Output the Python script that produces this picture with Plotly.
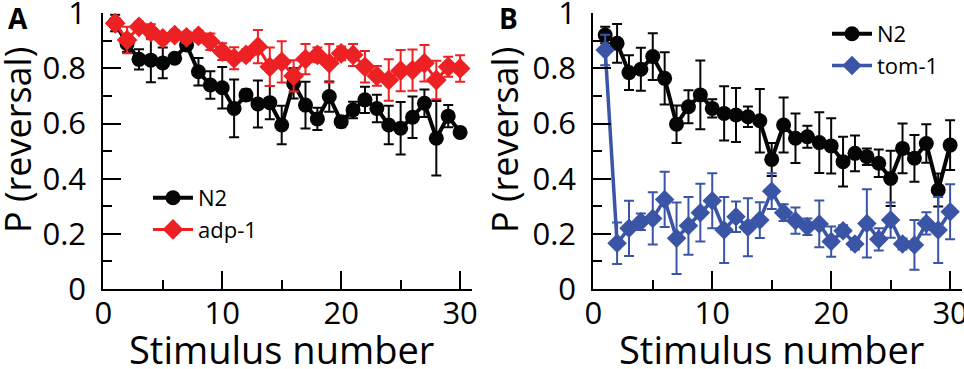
import plotly.graph_objects as go

stim = list(range(1, 31))

a_n2 = [0.965, 0.89, 0.833, 0.83, 0.82, 0.837, 0.885, 0.788, 0.74, 0.73,
        0.655, 0.704, 0.671, 0.676, 0.595, 0.746, 0.667, 0.617, 0.698, 0.607,
        0.649, 0.686, 0.655, 0.595, 0.583, 0.623, 0.674, 0.547, 0.627, 0.568]
a_n2_err = [0.03, 0.03, 0.037, 0.08, 0.056, 0.015, 0.015, 0.05, 0.05, 0.075,
            0.105, 0.02, 0.085, 0.06, 0.07, 0.055, 0.085, 0.04, 0.055, 0.02,
            0.03, 0.048, 0.05, 0.07, 0.095, 0.075, 0.05, 0.135, 0.04, 0.0]

a_adp = [0.964, 0.903, 0.951, 0.933, 0.909, 0.921, 0.913, 0.918, 0.897, 0.861,
         0.837, 0.849, 0.879, 0.806, 0.824, 0.773, 0.834, 0.849, 0.819, 0.855,
         0.849, 0.806, 0.773, 0.758, 0.792, 0.794, 0.819, 0.758, 0.806, 0.8]
a_adp_err = [0.015, 0.048, 0.018, 0.027, 0.018, 0.018, 0.02, 0.02, 0.03, 0.03,
             0.04, 0.02, 0.06, 0.07, 0.075, 0.057, 0.055, 0.027, 0.07, 0.025,
             0.04, 0.057, 0.036, 0.075, 0.075, 0.075, 0.066, 0.07, 0.036, 0.048]

b_n2 = [0.921, 0.891, 0.785, 0.797, 0.843, 0.764, 0.598, 0.661, 0.704, 0.655,
        0.637, 0.631, 0.625, 0.61, 0.47, 0.595, 0.547, 0.552, 0.531, 0.519,
        0.462, 0.492, 0.48, 0.456, 0.401, 0.51, 0.474, 0.528, 0.359, 0.522]
b_n2_err = [0.03, 0.07, 0.063, 0.078, 0.085, 0.095, 0.068, 0.06, 0.125, 0.033,
            0.098, 0.098, 0.037, 0.115, 0.06, 0.1, 0.09, 0.04, 0.11, 0.1,
            0.09, 0.065, 0.03, 0.05, 0.1, 0.09, 0.085, 0.07, 0.06, 0.09]

b_tom = [0.867, 0.166, 0.22, 0.244, 0.256, 0.325, 0.184, 0.229, 0.277, 0.32,
         0.214, 0.262, 0.224, 0.25, 0.355, 0.277, 0.248, 0.226, 0.236, 0.172,
         0.211, 0.163, 0.238, 0.18, 0.25, 0.163, 0.16, 0.238, 0.214, 0.28]
b_tom_err = [0.055, 0.075, 0.1, 0.03, 0.095, 0.1, 0.13, 0.105, 0.105, 0.1,
             0.12, 0.055, 0.105, 0.065, 0.065, 0.03, 0.048, 0.03, 0.085, 0.055,
             0.02, 0.02, 0.124, 0.04, 0.064, 0.02, 0.09, 0.04, 0.12, 0.1]

y_ticks = [0, 0.2, 0.4, 0.6, 0.8, 1]
y_ticklabels = ["0", "0.2", "0.4", "0.6", "0.8", "1"]
y_minor = [0.1, 0.3, 0.5, 0.7, 0.9]
x_ticks = [0, 10, 20, 30]
x_minor = [5, 15, 25]

BLACK = "#050505"
RED = "#ED2024"
BLUE = "#3A55A6"
FONT = "Open Sans"

W, H = 964, 369
x0A, x1A = 103.3, 472.0
x0B, x1B = 593.3, 962.0
yb, yt = 289.0, 13.3

fig = go.Figure()


def add(x, y, err, color, symbol, size, lw, name, xa, ya, legend):
    fig.add_trace(go.Scatter(
        x=x, y=y, mode="lines+markers", name=name,
        line=dict(color=color, width=lw),
        marker=dict(symbol=symbol, size=size, color=color, line=dict(width=0)),
        error_y=dict(type="data", array=err, color=color, thickness=2, width=5, visible=True),
        xaxis=xa, yaxis=ya, cliponaxis=False, legend=legend,
    ))


add(stim, a_n2, a_n2_err, BLACK, "circle", 15, 4, "N2", "x", "y", "legend")
add(stim, a_adp, a_adp_err, RED, "diamond", 16, 3, "adp-1", "x", "y", "legend")
add(stim, b_n2, b_n2_err, BLACK, "circle", 15, 4, "N2", "x2", "y2", "legend2")
add(stim, b_tom, b_tom_err, BLUE, "diamond", 15, 3.5, "tom-1", "x2", "y2", "legend2")

tickfont = dict(family=FONT, size=31, color="black")
xcommon = dict(range=[0, 31], tickmode="array", tickvals=x_ticks, ticktext=[str(v) for v in x_ticks],
               ticks="inside", ticklen=18, tickwidth=2, tickcolor="black", showline=True,
               linewidth=2, linecolor="black", showgrid=False, zeroline=False, tickfont=tickfont,
               ticklabelstandoff=-4, automargin=False, ticklabeloverflow="allow",
               minor=dict(tickmode="array", tickvals=x_minor, ticks="inside", ticklen=9,
                          tickwidth=2, tickcolor="black", showgrid=False))
ycommon = dict(range=[0, 1], tickmode="array", tickvals=y_ticks, ticktext=y_ticklabels,
               ticks="inside", ticklen=18, tickwidth=2, tickcolor="black", showline=True,
               linewidth=2, linecolor="black", showgrid=False, zeroline=False, tickfont=tickfont,
               ticklabelstandoff=9, automargin=False, ticklabeloverflow="allow",
               minor=dict(tickmode="array", tickvals=y_minor, ticks="inside", ticklen=9,
                          tickwidth=2, tickcolor="black", showgrid=False))

ydom = [1 - yb / H, 1 - yt / H]
fig.update_layout(
    template="none",
    width=W, height=H, margin=dict(l=0, r=0, t=0, b=0, pad=0, autoexpand=False),
    paper_bgcolor="white", plot_bgcolor="white",
    font=dict(family=FONT, color="black"),
    xaxis=dict(domain=[x0A / W, x1A / W], anchor="y", **xcommon),
    yaxis=dict(domain=ydom, anchor="x", **ycommon),
    xaxis2=dict(domain=[x0B / W, x1B / W], anchor="y2", **xcommon),
    yaxis2=dict(domain=ydom, anchor="x2", **ycommon),
    legend=dict(x=148 / W, y=1 - 177 / H, xanchor="left", yanchor="top",
                font=dict(family=FONT, size=22), itemwidth=40,
                bgcolor="rgba(0,0,0,0)", borderwidth=0, tracegroupgap=0),
    legend2=dict(x=827 / W, y=1 - 13 / H, xanchor="left", yanchor="top",
                 font=dict(family=FONT, size=22), itemwidth=40,
                 bgcolor="rgba(0,0,0,0)", borderwidth=0, tracegroupgap=0),
    showlegend=True,
)

ann = []
for ref in ("x", "x2"):
    ann.append(dict(text="Stimulus number", xref=ref, x=15, yref="paper", y=0,
                    yanchor="bottom", xanchor="center", showarrow=False,
                    font=dict(family=FONT, size=38), yshift=-8))
ann.append(dict(text="P (reversal)", xref="paper", x=17 / W, yref="paper", y=1 - 140 / H,
                textangle=-90, showarrow=False, xanchor="center", yanchor="middle",
                font=dict(family=FONT, size=36)))
ann.append(dict(text="P (reversal)", xref="paper", x=504 / W, yref="paper", y=1 - 140 / H,
                textangle=-90, showarrow=False, xanchor="center", yanchor="middle",
                font=dict(family=FONT, size=36)))
ann.append(dict(text="<b>A</b>", xref="paper", x=18 / W, yref="paper", y=1 - 18 / H,
                showarrow=False, xanchor="center", yanchor="middle",
                font=dict(family=FONT, size=28)))
ann.append(dict(text="<b>B</b>", xref="paper", x=508 / W, yref="paper", y=1 - 18 / H,
                showarrow=False, xanchor="center", yanchor="middle",
                font=dict(family=FONT, size=28)))
fig.update_layout(annotations=ann)

fig.write_html("out.html", config={"displayModeBar": False},
               post_script="document.body.style.margin='0';document.body.style.overflow='hidden';")
